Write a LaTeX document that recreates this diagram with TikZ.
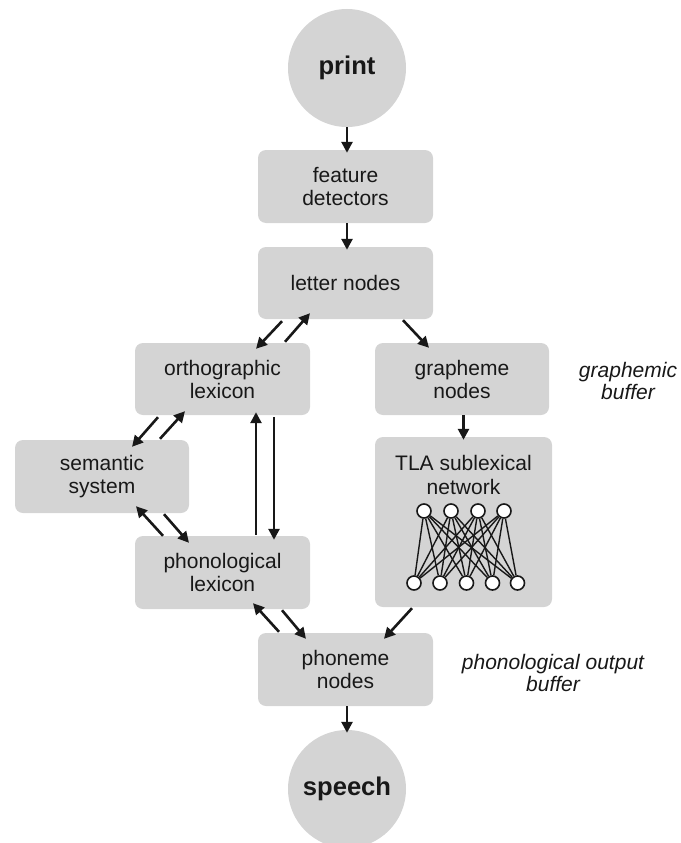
\documentclass[tikz,border=0pt]{standalone}
\usepackage{fontspec}
\setmainfont{Liberation Sans}
\usetikzlibrary{arrows.meta,calc}
\definecolor{boxgray}{RGB}{212,212,212}
\definecolor{ink}{RGB}{24,24,24}
\begin{document}
\begin{tikzpicture}[x=1pt,y=-1pt,
  box/.style={fill=boxgray, rounded corners=8pt, minimum width=175pt, minimum height=72pt,
    inner sep=0pt, align=center, text=ink, font=\fontsize{21}{23}\selectfont},
  disc/.style={circle, fill=boxgray, minimum size=118pt, inner sep=0pt, text=ink,
    font=\bfseries\fontsize{25.6}{28}\selectfont},
  arr/.style={line width=2.6pt, draw=ink, -{Triangle[length=11pt,width=11pt]}},
  unit/.style={circle, draw=ink, fill=white, line width=1.6pt, minimum size=14pt, inner sep=0pt},
  link/.style={draw=ink, line width=1.4pt},
  note/.style={font=\itshape\fontsize{21}{22}\selectfont, align=center, text=ink}]
\useasboundingbox (0,0) rectangle (680,843);
\clip (0,0) rectangle (680,843);

% input and output
\node[disc] (print)  at (347,68)  {print};
\node[disc] (speech) at (347,789) {speech};

% processing stages
\node[box, minimum height=73pt] (feat)    at (345.5,186.5) {feature\\detectors};
\node[box]                      (letter)  at (345.5,283)   {letter nodes};
\node[box]                      (ortho)   at (222.5,379)   {orthographic\\lexicon};
\node[box, minimum width=174pt] (graph)   at (462,379)     {grapheme\\nodes};
\node[box, minimum width=174pt, minimum height=73pt] (sem) at (102,476.5) {semantic\\system};
\node[box, minimum height=73pt] (phonlex) at (222.5,572.5) {phonological\\lexicon};
\node[box, minimum width=177pt, minimum height=170pt] (tla) at (463.5,522) {};
\node[box, minimum height=73pt] (phoneme) at (345.5,669.5) {phoneme\\nodes};

\node[align=center, text=ink, font=\fontsize{21}{24}\selectfont] (tlatext) at (463.5,475) {TLA sublexical\\network};

% side notes
\node[note] (gbuf) at (628,381) {graphemic\\buffer};
\node[note] (pbuf) at (553,673) {phonological output\\buffer};

% sublexical network: 4 input units, 5 output units, fully connected
\foreach \i/\x in {1/424,2/451,3/478,4/504}
  \node[unit] (t\i) at (\x,511) {};
\foreach \j/\x in {1/414,2/440,3/466.5,4/492.5,5/517.5}
  \node[unit] (b\j) at (\x,583) {};
\foreach \i in {1,...,4}
  \foreach \j in {1,...,5}
    \draw[link] (t\i) -- (b\j);

% connections
\draw[arr] (print.south) -- ($(print.south |- feat.north)+(0,3)$);
\draw[arr] (feat.south -| print.south) -- ($(letter.north -| print.south)+(0,3)$);
\draw[arr] ($(letter.south)+(-63.5,2)$) -- ($(ortho.north)+(33.5,6)$);
\draw[arr] ($(ortho.north)+(62.5,-1)$)  -- ($(letter.south)+(-35.5,-6)$);
\draw[arr] ($(letter.south)+(57.5,1)$)  -- ($(graph.north)+(-33,5)$);
\draw[arr] ($(ortho.south)+(-64.5,2)$)  -- ($(sem.north)+(30,7)$);
\draw[arr] ($(sem.north)+(58,-1)$)      -- ($(ortho.south)+(-37.5,-4)$);
\draw[arr] ($(ortho.south)+(51.5,2)$)   -- ($(phonlex.north)+(51.5,4)$);
\draw[arr] ($(phonlex.north)+(33.5,-1)$) -- ($(ortho.south)+(33.5,-3)$);
\draw[arr] ($(phonlex.north)+(-59.5,0)$) -- ($(sem.south)+(34,-7)$);
\draw[arr] ($(sem.south)+(62,1)$)       -- ($(phonlex.north)+(-33.5,7)$);
\draw[arr] ($(phoneme.north)+(-66.5,-1)$) -- ($(phonlex.south)+(30.5,-6)$);
\draw[arr] ($(phonlex.south)+(59.5,1)$) -- ($(phoneme.north)+(-39.5,6)$);
\draw[arr] (graph.south -| tla.north) -- ($(tla.north)+(0,3)$);
\draw[arr] ($(tla.south)+(-51.5,1)$)    -- ($(phoneme.north)+(38.5,6)$);
\draw[arr] (phoneme.south -| print.south) -- ($(speech.north)+(0,3)$);
\end{tikzpicture}
\end{document}
